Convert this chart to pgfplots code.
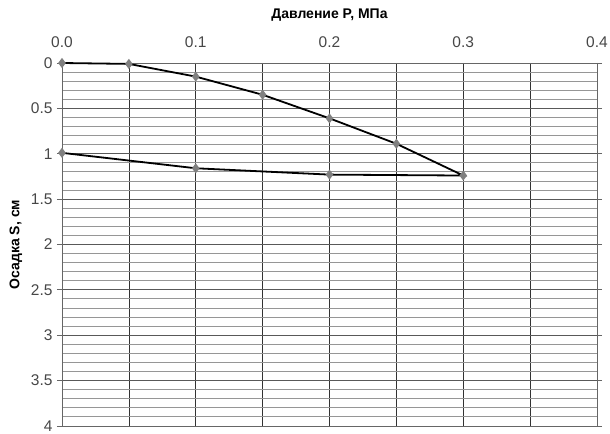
\documentclass[border=0pt]{standalone}
\usepackage{pgfplots}
\pgfplotsset{compat=1.18}
\usepackage{fontspec}
\setmainfont{Liberation Sans}
\definecolor{gridgray}{RGB}{150,150,150}
\definecolor{markgray}{RGB}{128,128,128}
\begin{document}
\begin{tikzpicture}
\begin{axis}[
  name=ax,
  scale only axis,
  width=535pt, height=363pt,
  xmin=0, xmax=0.4, ymin=0, ymax=4,
  y dir=reverse,
  xticklabel pos=upper,
  xtick={0,0.1,0.2,0.3,0.4},
  minor xtick={0.05,0.15,0.25,0.35},
  ytick={0,0.5,...,4},
  minor ytick={0.1,0.2,0.3,0.4,0.6,0.7,0.8,0.9,1.1,1.2,1.3,1.4,1.6,1.7,1.8,1.9,2.1,2.2,2.3,2.4,2.6,2.7,2.8,2.9,3.1,3.2,3.3,3.4,3.6,3.7,3.8,3.9},
  xticklabel style={yshift=7pt, /pgf/number format/fixed, /pgf/number format/fixed zerofill, /pgf/number format/precision=1},
  yticklabel style={xshift=-1pt, /pgf/number format/fixed, /pgf/number format/precision=1},
  /pgf/number format/assume math mode=true,
  ticklabel style={font=\fontsize{15.5}{17}\selectfont, text=black!72},
  xmajorgrids, xminorgrids,
  ymajorgrids, yminorgrids,
  major x grid style={black!80, line width=0.6pt},
  minor x grid style={black!80, line width=0.6pt},
  major y grid style={black!65, line width=0.9pt},
  minor y grid style={gridgray, line width=0.9pt},
  axis line style={black!60, line width=0.8pt},
  tick style={black!60, line width=0.8pt},
  major tick length=5pt, minor tick length=0pt,
  tick align=outside,
  xtick style={draw=none},
  xlabel={\textbf{Давление P, МПа}},
  ylabel={\textbf{Осадка S, см}},
  label style={font=\fontsize{14}{16}\selectfont},
  xlabel style={yshift=8pt},
  ylabel style={yshift=2pt},
]
\addplot[black, line width=1.8pt, mark=diamond*, mark size=3.6pt,
  mark options={fill=markgray, draw=markgray}]
  coordinates {
    (0,0) (0.05,0.01) (0.1,0.15) (0.15,0.35) (0.2,0.61) (0.25,0.89) (0.3,1.24)
    (0.2,1.23) (0.1,1.16) (0,0.99)
  };
\end{axis}
\pgfresetboundingbox
\path ([xshift=-62pt,yshift=-8pt]ax.south west) rectangle ([xshift=13pt,yshift=63pt]ax.north east);
\end{tikzpicture}
\end{document}
